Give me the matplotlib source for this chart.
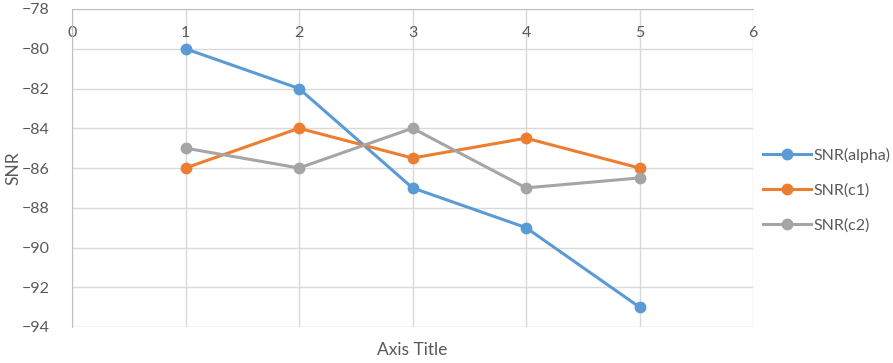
import matplotlib.pyplot as plt

# series
x = [1, 2, 3, 4, 5]
snr_alpha = [-80, -82, -87, -89, -93]
snr_c1 = [-86, -84, -85.5, -84.5, -86]
snr_c2 = [-85, -86, -84, -87, -86.5]

names = ["SNR(alpha)", "SNR(c1)", "SNR(c2)"]
colors = ["#5B9BD5", "#ED7D31", "#A5A5A5"]

plt.rcParams['font.family'] = ['Lato', 'DejaVu Sans']

fig = plt.figure(figsize=(8.93, 3.63), dpi=100)
ax = fig.add_axes([72/893, 1 - 327/363, (753 - 72)/893, (327 - 9)/363])

for ys, name, c in zip([snr_alpha, snr_c1, snr_c2], names, colors):
    ax.plot(x, ys, color=c, lw=2.2, marker='o', ms=7.5, label=name, zorder=3)

ax.set_xlim(0, 6)
ax.set_ylim(-94, -78)
ax.set_xticks(range(0, 7))
ax.set_yticks(range(-94, -77, 2))
ax.grid(True, color="#D9D9D9", lw=1)
ax.set_axisbelow(True)

for s in ax.spines.values():
    s.set_visible(False)
ax.spines['top'].set_visible(True)
ax.spines['top'].set_color("#BFBFBF")
ax.spines['left'].set_visible(True)
ax.spines['left'].set_color("#BFBFBF")

ax.xaxis.set_ticks_position('top')
ax.tick_params(axis='x', length=0, pad=-22, labelsize=11.5, labelcolor="#595959")
ax.tick_params(axis='y', length=0, pad=16, labelsize=11.5, labelcolor="#595959")

# axis titles
fig.text(13/893, 1 - 168/363, "SNR", rotation=90, ha='center', va='center',
         fontsize=12.5, color="#595959")
fig.text(412/893, 1 - 350/363, "Axis Title", ha='center', va='center',
         fontsize=12.5, color="#595959")

leg = ax.legend(loc='center left', bbox_to_anchor=(1.0, 0.43), frameon=False,
                fontsize=11.5, labelcolor="#595959", handlelength=3.0,
                handletextpad=0.2, labelspacing=1.3, borderaxespad=0.2)

fig.savefig("out.png", dpi=100)
